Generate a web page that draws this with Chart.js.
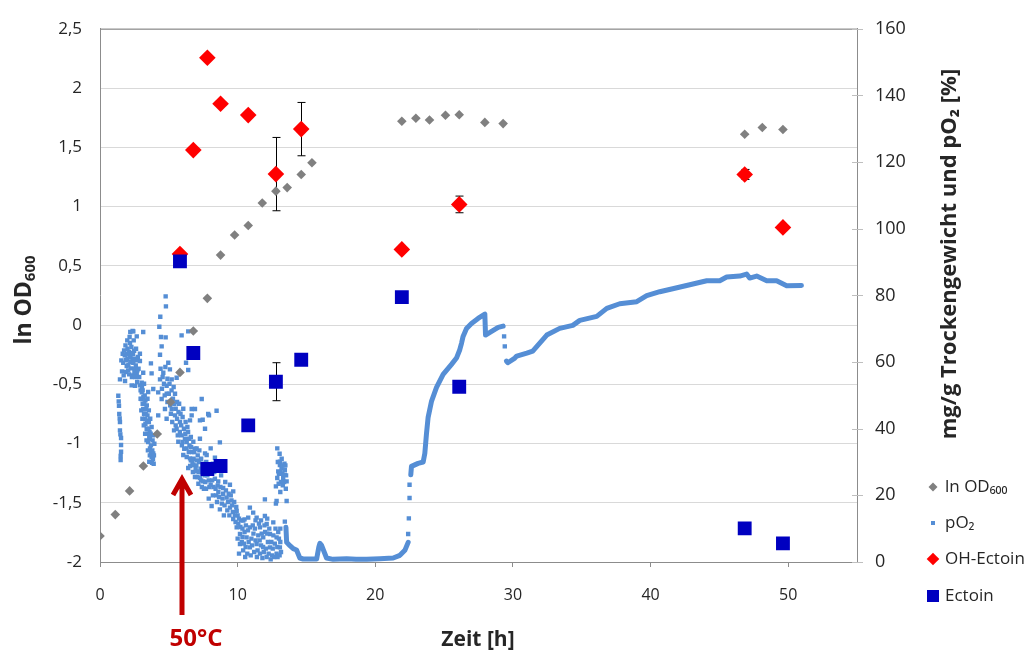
<!DOCTYPE html>
<html>
<head>
<meta charset="utf-8">
<script src="https://cdn.jsdelivr.net/npm/chart.js@4.4.0/dist/chart.umd.min.js"></script>
<style>
  html, body { margin: 0; padding: 0; background: #fff; }
</style>
</head>
<body>
<canvas id="mycanvas" width="1026" height="650"></canvas>
<script>
// sampling times [h] for OD, OH-Ectoin and Ectoin
var odTime  = [0, 1.11, 2.15, 3.15, 4.16, 5.13, 5.81, 6.78, 7.8, 8.76, 9.78, 10.77, 11.79, 12.78, 13.6, 14.62, 15.4,
               21.93, 22.95, 23.94, 25.1, 26.1, 27.96, 29.29, 46.84, 48.12, 49.62];
var odValue = [-1.78, -1.6, -1.4, -1.19, -0.92, -0.65, -0.4, -0.05, 0.225, 0.59, 0.76, 0.84, 1.03, 1.13, 1.16, 1.27, 1.37,
               1.72, 1.745, 1.73, 1.77, 1.775, 1.71, 1.7, 1.61, 1.667, 1.65];

var probeTime = [5.81, 6.78, 7.8, 8.76, 10.77, 12.78, 14.62, 21.93, 26.1, 46.84, 49.62];
var ohValue   = [92.4, 123.6, 151.3, 137.5, 134.1, 116.4, 129.9, 93.8, 107.3, 116.3, 100.4];
var ohError   = [0, 0, 0, 0, 0, 11, 8, 0, 2.5, 1.5, 0];
var ectValue  = [90.2, 62.7, 27.9, 28.8, 41, 54.1, 60.7, 79.5, 52.6, 10.1, 5.6];
var ectError  = [0, 0, 0, 0, 0, 5.7, 0, 0, 0, 0, 0];

// pO2 logger, scattered readings [h, %]
var po2Scatter = [
  // column at ~1.4 h
  [1.33,49.9],[1.36,48.2],[1.38,46.9],[1.40,44.4],[1.43,43.1],[1.45,42.0],[1.45,39.5],[1.48,38.3],[1.53,37.2],
  [1.53,35.1],[1.53,33.1],[1.50,31.8],[1.50,30.6],
  // first drop
  [1.45,54.8],[1.60,57.2],[1.69,59.8],[1.75,63.5],[1.80,62.0],[1.82,54.3],[1.88,60.6],[1.90,57.0],[1.94,58.8],
  [2.00,61.0],[2.00,64.0],[2.06,59.2],[2.10,63.0],[2.12,56.3],[2.15,67.5],[2.18,65.7],[2.20,60.0],[2.22,62.1],
  [2.25,58.1],[2.30,62.7],[2.30,53.0],[2.35,60.9],[2.37,69.3],[2.40,56.0],[2.42,59.8],[2.45,66.5],[2.48,63.4],
  [2.50,61.0],[2.54,52.9],[2.55,58.0],[2.60,59.0],[2.62,64.0],[2.67,67.7],[2.67,56.8],[2.70,54.0],[2.75,61.5],
  [2.80,58.0],[2.90,60.3],[2.42,69.2],[3.14,69.0],[3.14,56.8],[3.03,53.8],[3.70,59.6],[3.75,56.6],
  [1.55,60.5],[1.65,62.5],[1.72,56.0],[1.85,65.0],[1.95,62.5],[2.05,57.5],[2.15,61.5],[2.28,64.5],[2.32,55.5],
  [2.40,62.5],[2.50,57.0],[2.58,55.5],[2.65,60.5],[2.72,57.5],[2.85,55.5],[2.90,62.5],[2.20,69.0],[1.98,66.5],
  [2.90,53.0],[2.95,51.5],[3.03,50.9],[3.05,52.5],[3.03,48.9],[3.10,47.5],[3.15,49.5],[3.14,45.9],[3.20,44.5],
  [3.25,50.0],[3.27,43.0],[3.30,41.5],[3.35,46.0],[3.39,40.0],[3.40,47.0],[3.45,38.5],[3.45,44.0],[3.50,36.0],
  [3.55,42.0],[3.60,39.0],[3.63,37.0],[3.63,34.1],[3.70,35.0],[3.75,31.6],[3.58,30.1],[3.80,33.5],[3.87,32.6],
  [3.90,29.5],[3.95,35.5],
  [2.95,49.0],[3.00,45.5],[3.08,43.0],[3.18,41.0],[3.22,47.5],[3.28,38.5],[3.32,44.5],[3.38,36.5],[3.42,42.5],
  [3.48,33.5],[3.52,40.0],[3.58,37.5],[3.62,32.0],[3.68,38.5],[3.72,33.0],[3.78,29.8],[3.82,36.5],[3.85,31.0],
  [3.92,32.0],[3.10,51.5],[3.20,53.5],[3.30,48.5],[3.45,49.0],[3.55,45.5],[3.65,43.0],[3.75,40.5],[3.85,38.0],
  [3.50,51.0],
  // narrow peak near 4.5 h
  [4.77,79.7],[4.79,76.7],[4.38,73.6],[4.31,70.6],[4.43,67.5],[4.77,67.4],[4.48,64.7],[4.36,62.2],
  // second drop
  [3.87,51.9],[4.23,50.9],[4.36,54.8],[4.60,56.8],[4.96,59.8],[5.08,57.8],[5.21,54.8],[4.84,52.9],[5.57,55.3],
  [4.48,48.9],[4.50,52.0],[4.65,53.5],[4.70,50.0],[4.72,45.9],[4.90,55.0],[4.90,48.0],[5.00,50.5],[5.10,47.0],
  [5.20,51.5],[5.30,49.0],[5.35,52.5],[5.40,47.5],[4.23,44.0],[4.84,43.0],[5.21,45.9],[5.45,44.0],[5.50,46.0],
  [5.50,41.0],[5.60,43.0],[5.70,45.0],[5.81,42.0],[5.57,40.0],[5.80,39.0],[5.90,41.0],[5.93,38.0],[6.00,43.5],
  [6.00,36.0],[5.69,36.1],[6.10,40.0],[6.17,37.0],[6.20,38.5],[6.30,36.0],[6.29,34.1],[6.30,31.5],[6.40,39.0],
  [6.05,32.1],[6.50,35.0],[6.54,31.1],[6.60,37.5],[6.60,30.5],[6.41,28.2],[6.70,33.0],[6.78,29.1],[6.78,36.1],
  [6.80,31.0],[6.90,34.0],[6.90,25.5],[7.00,29.0],[7.02,34.1],[7.02,27.2],[7.10,32.0],[7.15,23.5],[7.20,30.0],
  [7.26,37.0],[7.26,25.2],[7.30,28.0],[7.40,27.0],[7.40,22.5],[7.50,29.5],[7.50,24.2],[7.60,26.0],[7.70,28.0],
  [7.75,32.1],[7.63,32.6],[7.80,26.0],[7.90,24.5],[8.00,29.0],[8.04,34.1],[8.10,26.5],[8.20,29.5],[8.35,31.3],
  [8.71,35.9],[5.93,68.0],[6.41,69.2],[6.25,59.8],[6.41,57.6],
  [6.54,42.5],[6.66,44.0],[6.66,45.9],[6.90,45.9],[7.26,42.5],[7.39,48.9],[7.46,42.7],[7.63,40.0],[7.86,44.4],
  [7.92,44.0],[8.47,45.4],
  [4.40,58.0],[4.55,55.5],[4.75,58.5],[4.85,50.5],[5.05,53.5],[5.15,44.5],[5.25,42.0],[5.38,39.5],[5.45,50.5],
  [5.60,48.0],[5.65,38.0],[5.75,47.5],[5.85,44.5],[5.95,35.0],[6.05,46.0],[6.12,34.0],[6.22,42.0],[6.35,40.5],
  [6.45,33.0],[6.48,37.0],[6.55,28.8],[6.62,34.5],[6.72,30.0],[6.75,27.0],[6.85,33.0],[6.95,28.0],[7.05,30.5],
  [7.08,25.5],[7.18,27.0],[7.22,33.5],[7.35,31.0],[7.35,24.5],[7.45,28.8],[7.55,27.5],[7.55,22.0],[7.65,24.0],
  [7.72,30.0],[7.85,27.5],[7.95,22.5],[8.05,27.5],[8.15,24.5],[8.25,22.5],[8.35,25.0],[8.45,20.0],[8.55,23.0],
  [8.65,19.5],[8.75,22.5],[8.85,17.5],[8.95,20.5],[9.05,17.0],[9.15,21.5],[9.25,15.5],[9.35,20.5],[9.40,14.0],
  [9.55,18.5],[9.65,15.0],[9.75,18.0],[9.85,12.0],[9.90,16.5],[10.00,14.0],[10.05,11.5],[10.25,12.5],[10.35,10.0],
  [8.04,23.2],[8.20,20.0],[8.30,27.0],[8.40,22.0],[8.50,18.0],[8.59,24.2],[8.60,21.0],[8.71,15.8],[8.80,26.0],
  [8.90,19.0],[8.95,22.2],[9.00,14.0],[9.10,24.0],[9.20,19.3],[9.30,18.0],[9.44,23.2],[9.44,16.3],[9.50,20.0],
  [9.60,17.0],[9.68,21.2],[9.68,12.9],[9.80,14.0],[9.93,15.3],[10.10,13.0],[10.41,12.4],[8.11,16.8],[7.70,22.0],
  [7.90,19.0],
  // low plateau 10-13 h
  [9.93,10.4],[10.00,7.0],[10.17,8.4],[10.17,5.4],[10.30,6.0],[10.40,3.5],[10.50,9.0],[10.60,11.0],[10.65,7.4],
  [10.70,2.5],[10.77,13.3],[10.89,16.3],[10.89,10.4],[10.89,4.4],[11.00,7.0],[11.10,11.0],[11.13,14.8],[11.20,3.0],
  [11.38,13.3],[11.38,5.4],[11.40,1.5],[11.50,8.0],[11.62,10.4],[11.62,2.5],[11.70,5.0],[11.80,1.2],[11.86,7.4],
  [11.90,3.0],[11.98,13.8],[11.98,18.8],[12.00,9.0],[12.11,11.4],[12.11,1.5],[12.20,6.0],[12.35,8.4],[12.35,4.4],
  [12.40,0.8],[12.50,2.0],[12.59,11.9],[12.70,5.5],[12.83,7.4],[12.83,2.5],[12.90,1.5],[13.00,7.0],[13.07,4.4],
  [13.10,10.0],[13.15,3.0],
  [10.10,2.5],[10.20,10.5],[10.35,7.5],[10.45,5.5],[10.55,1.5],[10.58,4.5],[10.75,9.5],[10.80,6.0],[10.95,2.0],
  [11.05,5.0],[11.15,8.5],[11.25,10.0],[11.30,6.5],[11.45,3.5],[11.55,11.5],[11.60,6.5],[11.75,8.5],[11.85,4.5],
  [11.95,11.0],[12.05,4.0],[12.15,8.5],[12.25,2.5],[12.30,10.0],[12.45,6.0],[12.55,4.0],[12.60,8.0],[12.65,1.5],
  [12.75,10.0],[12.88,4.5],[12.95,9.0],[13.05,2.0],[13.10,6.0],[12.15,13.0],[11.70,12.5],[11.30,12.5],[10.50,12.8],
  // short rise at ~13 h
  [12.78,17.5],[12.83,18.3],[12.78,22.7],[12.88,34.1],[12.88,25.2],[12.95,27.2],[13.00,26.5],[13.07,30.1],
  [13.07,29.1],[13.15,24.0],[13.19,28.2],[13.20,31.0],[13.30,29.0],[13.31,25.2],[13.40,29.5],[13.43,27.7],
  [13.43,26.2],[13.50,22.0],[13.56,24.2],[13.56,18.3],[13.43,12.1],
  [12.92,30.0],[13.05,32.5],[13.12,27.0],[13.25,26.5],[13.28,23.0],[13.38,24.0],[13.47,29.0],[13.52,26.0],
  [12.98,23.5],[13.10,21.0],
  // single readings on the steep jumps
  [22.39,8.4],[22.44,13.1],[22.49,19.2],[22.49,23.2],[29.36,67.7],[29.41,64.7]
];

// pO2 logger, continuous stretches
var po2TraceA = [[13.51,10.4],[13.56,5.9],[13.80,4.9],[14.04,4.0],[14.28,3.6],[14.52,1.2],[14.76,0.9],[15.20,0.9],
  [15.74,0.9],[15.90,4.5],[15.98,5.6],[16.10,5.0],[16.46,1.2],[16.94,0.8],[17.92,1.0],[18.60,0.8],[19.37,0.8],
  [20.33,1.0],[21.30,1.2],[21.79,2.0],[22.15,3.5],[22.39,5.9]];
var po2TraceB = [[22.58,26.2],[22.63,28.7],[23.11,29.6],[23.48,30.0],[23.60,32.6],[23.72,38.5],[23.84,43.4],
  [24.09,48.3],[24.45,52.4],[24.93,56.3],[25.54,59.3],[25.90,61.2],[26.14,63.7],[26.27,65.7],[26.38,67.7],
  [26.63,70.1],[26.99,71.6],[27.47,73.1],[27.96,74.4],[28.01,68.1],[28.45,69.2],[28.93,70.4],[29.29,70.8]];
var po2TraceC = [[29.53,60.3],[29.63,59.8],[30.14,61.2],[30.28,61.8],[31.01,62.7],[31.44,63.3],[32.46,68.1],
  [33.40,70.1],[34.35,71.0],[34.86,72.5],[36.09,73.7],[36.82,76.1],[37.76,77.5],[39.00,78.1],[39.72,79.9],
  [40.67,81.1],[41.61,82.0],[42.85,83.2],[44.08,84.4],[45.03,84.4],[45.53,85.5],[46.48,85.8],[46.98,86.4],
  [47.20,85.2],[47.71,85.8],[48.44,84.4],[49.16,84.4],[49.89,82.9],[50.96,83.0]];

var xTicks  = [0, 10, 20, 30, 40, 50];
var yTicks  = [-2, -1.5, -1, -0.5, 0, 0.5, 1, 1.5, 2, 2.5];
var y2Ticks = [0, 20, 40, 60, 80, 100, 120, 140, 160];

var FONT = "'Open Sans', 'DejaVu Sans', sans-serif";
var AXIS = '#8c8c8c';
var TEXT = '#262626';
var PO2  = '#558ED5';
var DARKRED = '#C00000';

function pts(xs, ys) {
  return xs.map(function(t, i) { return { x: t, y: ys[i] }; });
}
function pairs(list) {
  return list.map(function(p) { return { x: p[0], y: p[1] }; });
}
function traceSet(list) {
  return {
    label: 'pO2 trace', data: pairs(list), yAxisID: 'y2', showLine: true,
    pointRadius: 0, borderColor: PO2, borderWidth: 5, borderJoinStyle: 'round',
    borderCapStyle: 'round', order: 4
  };
}

function drawErrorBars(chart, values, errors) {
  var ctx = chart.ctx, x = chart.scales.x, y = chart.scales.y2;
  ctx.save();
  ctx.strokeStyle = '#000';
  ctx.lineWidth = 1;
  probeTime.forEach(function(t, i) {
    if (!errors[i]) return;
    var px = Math.round(x.getPixelForValue(t)) + 0.5;
    var top = y.getPixelForValue(values[i] + errors[i]);
    var bot = y.getPixelForValue(values[i] - errors[i]);
    ctx.beginPath();
    ctx.moveTo(px, top); ctx.lineTo(px, bot);
    ctx.moveTo(px - 4, top); ctx.lineTo(px + 4, top);
    ctx.moveTo(px - 4, bot); ctx.lineTo(px + 4, bot);
    ctx.stroke();
  });
  ctx.restore();
}

// rotated text made of runs, each run may be smaller and shifted (subscript)
function drawRotated(ctx, cx, cy, runs) {
  ctx.save();
  ctx.translate(cx, cy);
  ctx.rotate(-Math.PI / 2);
  ctx.textBaseline = 'alphabetic';
  ctx.textAlign = 'left';
  var total = 0;
  runs.forEach(function(r) { ctx.font = r.font; r.w = ctx.measureText(r.text).width; total += r.w; });
  var pos = -total / 2;
  runs.forEach(function(r) {
    ctx.font = r.font;
    ctx.fillText(r.text, pos, r.dy || 0);
    pos += r.w;
  });
  ctx.restore();
}

var decorations = {
  id: 'decorations',
  beforeDatasetsDraw: function(chart) {
    drawErrorBars(chart, ohValue, ohError);
    drawErrorBars(chart, ectValue, ectError);
  },
  afterDraw: function(chart) {
    var ctx = chart.ctx, a = chart.chartArea, y2 = chart.scales.y2;
    ctx.save();
    // frame line along the top of the plot
    ctx.strokeStyle = AXIS;
    ctx.lineWidth = 1;
    ctx.beginPath();
    ctx.moveTo(a.left, a.top + 0.5); ctx.lineTo(a.right, a.top + 0.5);
    ctx.stroke();
    // cross ticks on the secondary axis
    ctx.strokeStyle = '#bfbfbf';
    ctx.beginPath();
    y2Ticks.forEach(function(v) {
      var py = Math.round(y2.getPixelForValue(v)) + 0.5;
      ctx.moveTo(a.right - 5, py); ctx.lineTo(a.right + 6, py);
    });
    ctx.stroke();

    ctx.fillStyle = TEXT;
    drawRotated(ctx, 31, 300, [
      { text: 'ln OD', font: 'bold 23px ' + FONT },
      { text: '600', font: 'bold 15px ' + FONT, dy: 4 }
    ]);
    drawRotated(ctx, 956, 254, [
      { text: 'mg/g Trockengewicht und pO\u2082 [%]', font: 'bold 22px ' + FONT }
    ]);
    ctx.font = 'bold 21px ' + FONT;
    ctx.textAlign = 'center';
    ctx.textBaseline = 'alphabetic';
    ctx.fillText('Zeit [h]', 478, 646);

    // temperature shift marker
    ctx.strokeStyle = DARKRED;
    ctx.fillStyle = DARKRED;
    ctx.lineWidth = 5;
    ctx.beginPath();
    ctx.moveTo(182, 615); ctx.lineTo(182, 480);
    ctx.moveTo(173, 495); ctx.lineTo(182, 479); ctx.lineTo(191, 495);
    ctx.stroke();
    ctx.font = 'bold 24px ' + FONT;
    ctx.fillText('50\u00B0C', 196, 646);

    // legend
    var items = [
      { text: 'ln OD\u2086\u2080\u2080', y: 487, shape: 'diamond', r: 4.5, color: '#808080' },
      { text: 'pO\u2082', y: 523, shape: 'square', r: 2, color: PO2 },
      { text: 'OH-Ectoin', y: 559, shape: 'diamond', r: 6.3, color: '#FF0000' },
      { text: 'Ectoin', y: 596, shape: 'square', r: 6, color: '#0000C0' }
    ];
    ctx.font = '17px ' + FONT;
    ctx.textAlign = 'left';
    ctx.textBaseline = 'middle';
    items.forEach(function(it) {
      ctx.fillStyle = it.color;
      ctx.beginPath();
      if (it.shape === 'diamond') {
        ctx.moveTo(933, it.y - it.r); ctx.lineTo(933 + it.r, it.y);
        ctx.lineTo(933, it.y + it.r); ctx.lineTo(933 - it.r, it.y);
        ctx.closePath();
      } else {
        ctx.rect(933 - it.r, it.y - it.r, it.r * 2, it.r * 2);
      }
      ctx.fill();
      ctx.fillStyle = TEXT;
      ctx.fillText(it.text, 945, it.y);
    });
    ctx.restore();
  }
};

var ctx = document.getElementById('mycanvas');

var chart = new Chart(ctx, {
  type: 'scatter',
  data: {
    datasets: [
      {
        label: 'ln OD\u2086\u2080\u2080', data: pts(odTime, odValue), yAxisID: 'y',
        pointStyle: 'rectRot', pointRadius: 4.8, backgroundColor: '#808080', borderWidth: 0, order: 2
      },
      {
        label: 'pO\u2082', data: pairs(po2Scatter), yAxisID: 'y2',
        pointStyle: 'rect', pointRadius: 3.1, backgroundColor: PO2, borderWidth: 0, order: 4
      },
      traceSet(po2TraceA),
      traceSet(po2TraceB),
      traceSet(po2TraceC),
      {
        label: 'OH-Ectoin', data: pts(probeTime, ohValue), yAxisID: 'y2',
        pointStyle: 'rectRot', pointRadius: 8.3, backgroundColor: '#FF0000', borderWidth: 0, order: 1
      },
      {
        label: 'Ectoin', data: pts(probeTime, ectValue), yAxisID: 'y2',
        pointStyle: 'rect', pointRadius: 9.8, backgroundColor: '#0000C0', borderWidth: 0, order: 0
      }
    ]
  },
  options: {
    responsive: false,
    animation: false,
    devicePixelRatio: 1,
    events: [],
    layout: { padding: { top: 22, left: 0, right: 0, bottom: 0 } },
    plugins: { legend: { display: false }, tooltip: { enabled: false } },
    scales: {
      x: {
        type: 'linear', min: 0, max: 55,
        afterBuildTicks: function(s) { s.ticks = xTicks.map(function(v) { return { value: v }; }); },
        afterFit: function(s) { s.height = 88; },
        grid: { drawOnChartArea: false, color: AXIS, tickLength: 5 },
        border: { color: AXIS },
        ticks: { color: TEXT, font: { family: FONT, size: 16 }, padding: 19, maxRotation: 0 }
      },
      y: {
        position: 'left', min: -2, max: 2.5,
        afterBuildTicks: function(s) { s.ticks = yTicks.map(function(v) { return { value: v }; }); },
        afterFit: function(s) { s.width = 100; },
        grid: { color: '#d9d9d9', drawTicks: false },
        border: { color: AXIS },
        ticks: {
          color: TEXT, font: { family: FONT, size: 17 }, padding: 18,
          callback: function(v) { return String(v).replace('.', ','); }
        }
      },
      y2: {
        position: 'right', min: 0, max: 160,
        afterBuildTicks: function(s) { s.ticks = y2Ticks.map(function(v) { return { value: v }; }); },
        afterFit: function(s) { s.width = 169; },
        grid: { drawOnChartArea: false, drawTicks: false },
        border: { color: AXIS },
        ticks: { color: TEXT, font: { family: FONT, size: 18 }, padding: 18 }
      }
    }
  },
  plugins: [decorations]
});
</script>
</body>
</html>
